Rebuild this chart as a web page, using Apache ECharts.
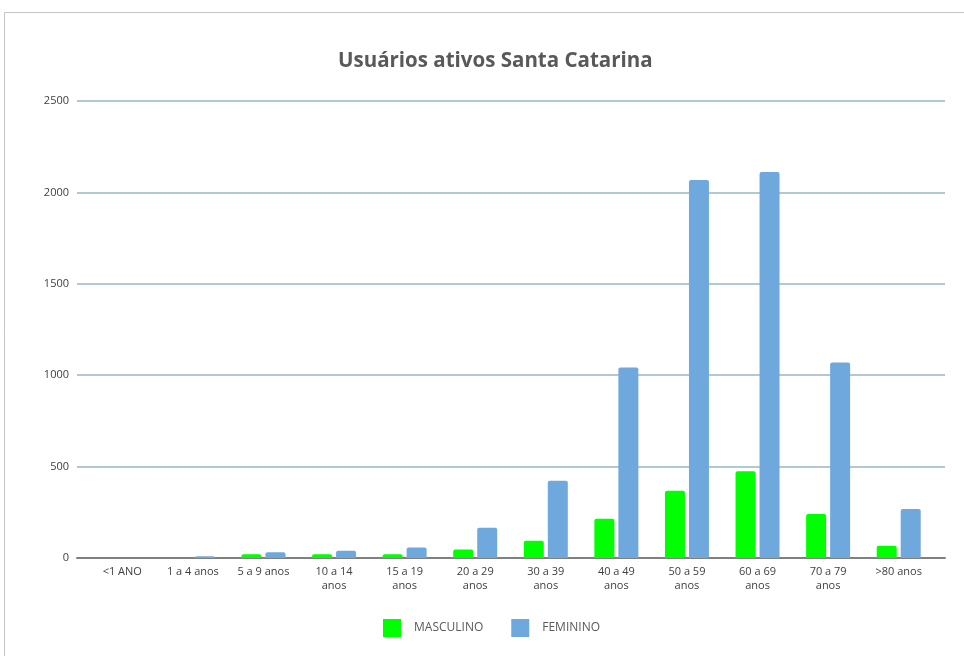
<!DOCTYPE html>
<html><head><meta charset="utf-8">
<script src="https://cdn.jsdelivr.net/npm/echarts@6/dist/echarts.min.js"></script>
<style>html,body{margin:0;padding:0;background:#fff}#c{width:964px;height:656px}</style>
</head><body><div id="c"></div>
<script>
const categories = ['<1 ANO','1 a 4 anos','5 a 9 anos','10 a 14\nanos','15 a 19\nanos','20 a 29\nanos','30 a 39\nanos','40 a 49\nanos','50 a 59\nanos','60 a 69\nanos','70 a 79\nanos','>80 anos'];
const masculino = [0, 0, 20, 20, 20, 47, 95, 215, 368, 474, 241, 67];
const feminino = [0, 10, 31, 40, 58, 166, 423, 1042, 2068, 2111, 1070, 268];
const yTicks = [0, 500, 1000, 1500, 2000, 2500];

const font = '"Open Sans", "Noto Sans", sans-serif';
const chart = echarts.init(document.getElementById('c'));
chart.setOption({
  animation: false,
  backgroundColor: '#fff',
  title: {
    text: 'Usuários ativos Santa Catarina',
    left: 333, top: 46,
    textStyle: { fontFamily: font, fontSize: 20.5, fontWeight: 'bold', color: '#595959' }
  },
  graphic: [{
    type: 'rect', silent: true, z: -1,
    shape: { x: 4.5, y: 12.5, width: 1100, height: 1100 },
    style: { fill: 'none', stroke: '#c4c4c4', lineWidth: 1 }
  }],
  legend: {
    left: 378, top: 614,
    itemWidth: 18, itemHeight: 18, itemGap: 28,
    icon: 'rect',
    textStyle: { fontFamily: font, fontSize: 12, color: '#595959', padding: [0, 0, 0, 8] },
    data: ['MASCULINO', 'FEMININO']
  },
  grid: [
    { left: 77, right: 19, top: 101, bottom: 98 },
    { left: 87, right: 30, top: 101, bottom: 98 }
  ],
  xAxis: [
    { type: 'category', gridIndex: 0, data: categories,
      axisLine: { show: true, lineStyle: { color: '#808080', width: 2 } },
      axisTick: { show: false }, axisLabel: { show: false }, splitLine: { show: false } },
    { type: 'category', gridIndex: 1, data: categories,
      axisLine: { show: false }, axisTick: { show: false },
      axisLabel: { fontFamily: font, fontSize: 11, color: '#404040', lineHeight: 14, margin: 7, interval: 0 } }
  ],
  yAxis: [
    { type: 'value', gridIndex: 0, min: yTicks[0], max: yTicks[yTicks.length - 1], interval: 500,
      axisLine: { show: false }, axisTick: { show: false },
      axisLabel: { fontFamily: font, fontSize: 11, color: '#404040', margin: 8, formatter: v => String(v) },
      splitLine: { lineStyle: { color: '#98b8bf', width: 1.5 } } },
    { type: 'value', gridIndex: 1, min: yTicks[0], max: yTicks[yTicks.length - 1], interval: 500, show: false,
      splitLine: { show: false } }
  ],
  series: [
    { name: 'MASCULINO', type: 'bar', xAxisIndex: 1, yAxisIndex: 1, data: masculino,
      barWidth: 20, barGap: '20%',
      itemStyle: { color: '#00ff00', borderRadius: [2, 2, 0, 0] } },
    { name: 'FEMININO', type: 'bar', xAxisIndex: 1, yAxisIndex: 1, data: feminino,
      barWidth: 20, barGap: '20%',
      itemStyle: { color: '#6fa8dc', borderRadius: [2, 2, 0, 0] } }
  ]
});
</script></body></html>
